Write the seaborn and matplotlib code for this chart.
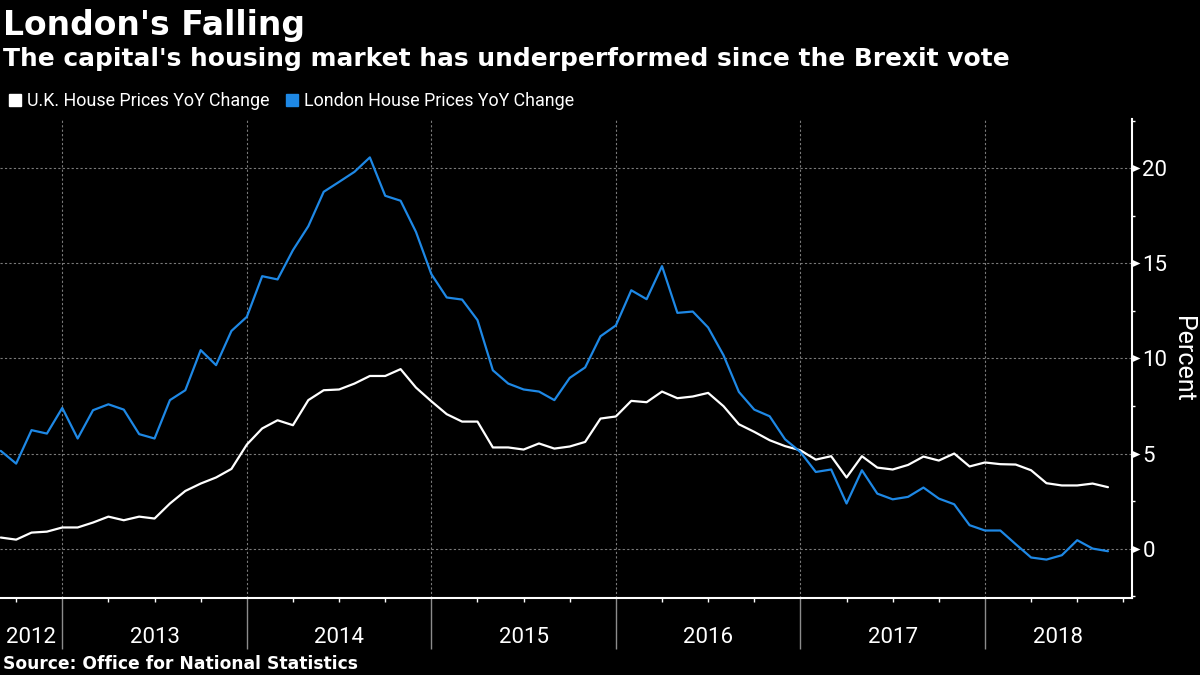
import numpy as np
import pandas as pd
import matplotlib
matplotlib.use("Agg")
import matplotlib.pyplot as plt
import seaborn as sns
from matplotlib.path import Path
from matplotlib.lines import Line2D
from matplotlib.ticker import FixedLocator, MultipleLocator

# ---------------- data ----------------
dates = pd.date_range("2012-09-01", periods=73, freq="MS")

uk = [0.58, 0.47, 0.84, 0.89, 1.11, 1.11, 1.37, 1.68, 1.49, 1.68,
      1.58, 2.37, 3.03, 3.42, 3.74, 4.19, 5.47, 6.32, 6.75, 6.49,
      7.81, 8.33, 8.37, 8.68, 9.08, 9.08, 9.44, 8.47, 7.75, 7.07,
      6.68, 6.68, 5.32, 5.32, 5.21, 5.53, 5.26, 5.37, 5.61, 6.84,
      6.95, 7.77, 7.70, 8.26, 7.91, 8.00, 8.19, 7.49, 6.54, 6.14,
      5.70, 5.39, 5.17, 4.68, 4.86, 3.74, 4.86, 4.26, 4.16, 4.40,
      4.84, 4.63, 5.00, 4.32, 4.53, 4.44, 4.42, 4.12, 3.44, 3.32,
      3.32, 3.42, 3.23]

london = [5.14, 4.47, 6.23, 6.05, 7.40, 5.79, 7.28, 7.59, 7.31, 6.02,
          5.79, 7.81, 8.33, 10.44, 9.65, 11.45, 12.19, 14.33, 14.16, 15.70,
          16.96, 18.77, 19.29, 19.82, 20.58, 18.56, 18.30, 16.66, 14.44, 13.21,
          13.10, 12.02, 9.38, 8.68, 8.37, 8.26, 7.81, 8.98, 9.53, 11.17,
          11.74, 13.59, 13.12, 14.86, 12.40, 12.47, 11.63, 10.17, 8.24, 7.31,
          6.96, 5.75, 5.08, 4.03, 4.16, 2.37, 4.12, 2.89, 2.59, 2.72,
          3.21, 2.63, 2.33, 1.23, 0.95, 0.95, 0.23, -0.47, -0.58, -0.35,
          0.44, 0.00, -0.14]

series_names = ["U.K. House Prices YoY Change", "London House Prices YoY Change"]
series_colors = ["#ffffff", "#1e88e5"]
years = [2012, 2013, 2014, 2015, 2016, 2017, 2018]

title = "London's Falling"
subtitle = "The capital's housing market has underperformed since the Brexit vote"
source = "Source: Office for National Statistics"
ylabel = "Percent"

# ---------------- style ----------------
sns.set_theme(style="dark")
plt.rcParams.update({
    "figure.facecolor": "black",
    "axes.facecolor": "black",
    "savefig.facecolor": "black",
    "text.color": "white",
})
plt.rcParams["font.family"] = ["Roboto", "DejaVu Sans"]

months = np.asarray((dates.year - 2012) * 12 + dates.month - 9)
df = pd.DataFrame({"month": months, series_names[0]: uk, series_names[1]: london})
long = df.melt(id_vars="month", var_name="series", value_name="value")

fig = plt.figure(figsize=(12, 6.75), dpi=100)
ax = fig.add_axes([0.0, 0.1141, 0.9433, 0.7096])

sns.lineplot(data=long, x="month", y="value", hue="series",
             hue_order=series_names,
             palette=dict(zip(series_names, series_colors)),
             linewidth=1.6, ax=ax, legend=False)

xmin, xmax = -0.05, 73.56
ax.set_xlim(xmin, xmax)
ax.set_ylim(-2.6, 22.6)
ax.set_xlabel("")

# x axis: year boundaries (major) and quarters (minor)
year_bounds = [int(m) for m, d in zip(months, dates) if d.month == 1]
ax.xaxis.set_major_locator(FixedLocator(year_bounds))
ax.xaxis.set_minor_locator(FixedLocator(np.arange(1, 74, 3)))
ax.tick_params(axis="x", which="both", bottom=True, top=False)
ax.tick_params(axis="x", which="major", length=37, width=1, color="#8c8c8c",
               direction="out", labelbottom=False)
ax.tick_params(axis="x", which="minor", length=3, width=1, color="white",
               direction="out")

edges = [xmin] + year_bounds + [xmax]
for yr, a, b in zip(years, edges[:-1], edges[1:]):
    ax.text((a + b) / 2, -0.0835, str(yr), transform=ax.get_xaxis_transform(),
            ha="center", va="center", color="white", fontsize=16)

# y axis on the right
ax.yaxis.tick_right()
ax.yaxis.set_label_position("right")
ax.yaxis.set_major_locator(MultipleLocator(5))
ax.yaxis.set_minor_locator(FixedLocator(np.arange(-2.5, 23, 5)))
ax.tick_params(axis="y", which="both", right=True, left=False)
ax.tick_params(axis="y", which="major", length=11.5, width=0, colors="white",
               labelsize=16, pad=-4, direction="out")
ax.tick_params(axis="y", which="minor", length=2.5, width=1, color="white",
               direction="out")
ax.set_ylabel(ylabel, rotation=270, color="white", fontsize=18, labelpad=20)

ax.grid(True, which="major", axis="both", color="#7a7a7a",
        linestyle=(0, (2, 2)), linewidth=0.8)

for side in ["left", "top"]:
    ax.spines[side].set_visible(False)
for side in ["right", "bottom"]:
    ax.spines[side].set_visible(True)
    ax.spines[side].set_color("white")
    ax.spines[side].set_linewidth(1.5)

# triangular major y ticks
tri = Path([(0, -0.45), (1, 0), (0, 0.45), (0, -0.45)],
           [Path.MOVETO, Path.LINETO, Path.LINETO, Path.CLOSEPOLY])
for t in ax.yaxis.get_major_ticks():
    t.tick2line.set_marker(tri)
    t.tick2line.set_markerfacecolor("white")
    t.tick2line.set_markeredgecolor("white")

# legend
handles = [Line2D([], [], marker="s", linestyle="none", markersize=8,
                  markerfacecolor=c, markeredgecolor=c) for c in series_colors]
fig.legend(handles, series_names, loc="center left", bbox_to_anchor=(0.0065, 0.85),
           ncol=2, frameon=False, fontsize=12.9, labelcolor="white",
           handlelength=0.8, handletextpad=0.25, columnspacing=0.9,
           borderaxespad=0, borderpad=0)

fig.text(0.0025, 0.948, title, fontsize=23.8, weight="bold", color="white",
         family="DejaVu Sans", va="baseline")
fig.text(0.0025, 0.9027, subtitle, fontsize=17.9, weight="bold", color="white",
         family="DejaVu Sans", va="baseline")
fig.text(0.0025, 0.009, source, fontsize=12.3, weight="bold", color="white",
         family="DejaVu Sans", va="baseline")

fig.savefig("out.png", dpi=100, facecolor="black")
